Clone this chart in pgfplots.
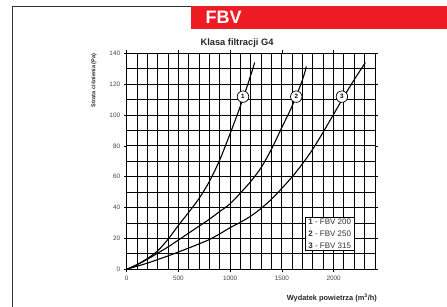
\documentclass[border=0pt]{standalone}
\usepackage{fontspec}
\setmainfont{Liberation Sans}
\usepackage{pgfplots}
\pgfplotsset{compat=1.18}
\definecolor{fbvred}{HTML}{ED1C24}
\definecolor{ticklab}{HTML}{444444}
\begin{document}
\begin{tikzpicture}[x=1pt,y=1pt]
\path[use as bounding box] (0,0) rectangle (447,307);
\draw[line width=0.8pt, black!80] (12.7,0) -- (12.7,301) -- (447,301);
\fill[fbvred] (191,278) rectangle (447,301);
\node[text=white,font=\fontsize{18}{18}\selectfont\bfseries, anchor=west, inner sep=0pt] at (205.5,289.5) {FBV};
\node[font=\fontsize{9.3}{10}\selectfont\bfseries, text=black!85] at (237,264) {Klasa filtracji G4};
\begin{axis}[at={(126.7pt,37.7pt)}, anchor=south west, scale only axis,
  width=248.3pt, height=216pt,
  xmin=0, xmax=2400, ymin=0, ymax=140,
  xtick={0,500,...,2000}, ytick={0,20,...,140},
  minor xtick={0,100,...,2400}, minor ytick={0,10,...,140},
  grid=both,
  major grid style={black, line width=1pt},
  minor grid style={black, line width=1pt},
  axis line style={black, line width=1pt},
  tick align=outside, major tick length=3pt, minor tick length=0pt,
  tick style={black, line width=0.6pt},
  /pgf/number format/assume math mode=true,
  /pgf/number format/1000 sep={},
  ticklabel style={font=\fontsize{6.4}{7}\selectfont, text=ticklab},
  clip=false,
]
\addplot[black, line width=1.1pt, smooth] coordinates {
(0,0) (100,3) (200,7) (300,12) (400,19.5) (500,28.5) (600,37) (700,46) (800,57) (900,71) (1000,88) (1100,106) (1200,126) (1237,134)};
\addplot[black, line width=1.1pt, smooth] coordinates {
(0,0) (100,3) (200,6.5) (300,10.5) (400,14.5) (500,19) (600,23.5) (700,28) (800,32.5) (900,37.5) (1000,42.5) (1100,49.5) (1200,57) (1300,66) (1400,78) (1500,92) (1600,106) (1700,123) (1736,131.5)};
\addplot[black, line width=1.1pt, smooth] coordinates {
(0,0) (100,2) (200,4) (300,6.3) (400,8.7) (500,11.2) (600,13.8) (700,16.5) (800,19.3) (900,23) (1000,27) (1100,30.5) (1200,34.5) (1300,39.5) (1400,45.5) (1500,52.5) (1600,60) (1700,68.5) (1800,78) (1900,89) (2000,100.5) (2100,112) (2200,123) (2307,134)};
\node[circle, draw, line width=0.7pt, fill=white, inner sep=0pt, minimum size=11.5pt, font=\fontsize{6.3}{6}\selectfont\bfseries] at (axis cs:1124,111.9) {1};
\node[circle, draw, line width=0.7pt, fill=white, inner sep=0pt, minimum size=11.5pt, font=\fontsize{6.3}{6}\selectfont\bfseries] at (axis cs:1639,111.9) {2};
\node[circle, draw, line width=0.7pt, fill=white, inner sep=0pt, minimum size=11.5pt, font=\fontsize{6.3}{6}\selectfont\bfseries] at (axis cs:2080,111.9) {3};
\end{axis}
\node[rotate=90, anchor=east, font=\fontsize{5.6}{6}\selectfont\bfseries, text=black!85, inner sep=0pt] at (94,253.7) {Strata ciśnienia (Pa)};
\node[anchor=east, font=\fontsize{7.4}{8}\selectfont\bfseries, text=black!85, inner sep=0pt] at (377,9) {Wydatek powietrza (m\textsuperscript{3}/h)};
\node[draw, line width=0.7pt, fill=white, anchor=north west, inner xsep=3pt, inner ysep=2pt, align=left, font=\fontsize{8}{12}\selectfont, text=black!80] at (305,90.3) {\textbf{1} - FBV 200\\\textbf{2} - FBV 250\\\textbf{3} - FBV 315};
\end{tikzpicture}
\end{document}
